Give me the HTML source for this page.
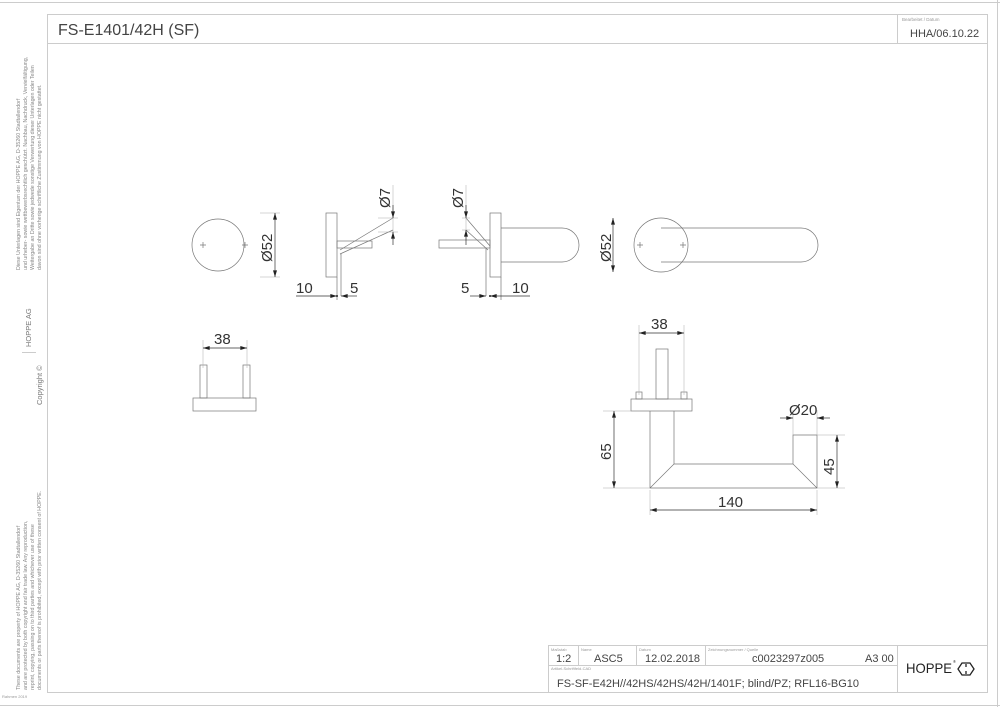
<!DOCTYPE html>
<html><head><meta charset="utf-8"><style>
html,body{margin:0;padding:0;background:#fff;}
svg{display:block;font-family:"Liberation Sans",sans-serif;}
</style></head><body>
<svg width="1000" height="707" viewBox="0 0 1000 707" xmlns="http://www.w3.org/2000/svg">
<defs>
<marker id="a" viewBox="0 0 10 6" refX="10" refY="3" markerWidth="10" markerHeight="4" orient="auto-start-reverse" markerUnits="userSpaceOnUse"><path d="M0,0 L10,3 L0,6z" fill="#222"/></marker>
</defs>
<g fill="none" stroke="#ccc" stroke-width="1">
<rect x="47.5" y="14.5" width="940" height="678"/>
<line x1="997.5" y1="0" x2="997.5" y2="707"/>
<line x1="0" y1="2.5" x2="1000" y2="2.5"/>
<line x1="47" y1="43.5" x2="987" y2="43.5"/>
<line x1="897.5" y1="14" x2="897.5" y2="43"/>
<line x1="548.5" y1="645.5" x2="987" y2="645.5"/>
<line x1="548.5" y1="645" x2="548.5" y2="692"/>
<line x1="548" y1="665.5" x2="897" y2="665.5"/>
<line x1="578.5" y1="645" x2="578.5" y2="665"/>
<line x1="636.5" y1="645" x2="636.5" y2="665"/>
<line x1="705.5" y1="645" x2="705.5" y2="665"/>
<line x1="897.5" y1="645" x2="897.5" y2="692"/>
<line x1="0" y1="705.5" x2="1000" y2="705.5"/>
<line x1="22" y1="352.5" x2="36" y2="352.5"/>
</g>
<text x="58" y="35" font-size="16" fill="#444">FS-E1401/42H (SF)</text>
<text x="902" y="21" font-size="4.5" fill="#999">Bearbeitet / Datum</text>
<text x="910" y="37" font-size="11" fill="#444">HHA/06.10.22</text>
<g font-size="4" fill="#999">
<text x="551" y="651">Maßstab</text><text x="581" y="651">Name</text><text x="639" y="651">Datum</text><text x="708" y="651">Zeichnungsnummer / Quelle</text>
<text x="551" y="670">Artikel-Schriftfeld-CAD</text>
<text x="2" y="698">Rahmen 2019</text>
</g>
<g font-size="11" fill="#444">
<text x="556" y="662">1:2</text><text x="594" y="662">ASC5</text><text x="645" y="662">12.02.2018</text>
<text x="752" y="662">c0023297z005</text><text x="865" y="662">A3 00</text>
<text x="557" y="687">FS-SF-E42H//42HS/42HS/42H/1401F; blind/PZ; RFL16-BG10</text>
</g>
<text x="906" y="673" font-size="14" fill="#222" textLength="46" lengthAdjust="spacingAndGlyphs">HOPPE</text>
<text x="953" y="663" font-size="4" fill="#222">®</text>
<path d="M962,663 h8 l4,6 l-4,6 h-8 l-4,-6z M966,664 v3 M966,671 v3" fill="none" stroke="#222" stroke-width="1.3"/>
<g font-size="5.3" fill="#888">
<g transform="translate(20,270) rotate(-90)"><text>Diese Unterlagen sind Eigentum der  HOPPE AG, D-35260 Stadtallendorf</text></g>
<g transform="translate(27,270) rotate(-90)"><text>und urheber- sowie wettbewerbsrechtlich geschützt. Nachbau, Nachdruck, Vervielfältigung,</text></g>
<g transform="translate(34,270) rotate(-90)"><text>Weitergabe an Dritte sowie jedwede sonstige Verwertung dieser Unterlagen oder Teilen</text></g>
<g transform="translate(41,270) rotate(-90)"><text>davon sind ohne vorherige schriftliche Zustimmung von HOPPE nicht gestattet.</text></g>
<g transform="translate(20,690) rotate(-90)"><text>These documents are property of HOPPE AG, D-35260 Stadtallendorf</text></g>
<g transform="translate(27,690) rotate(-90)"><text>and are protected by both copyright and fair trade law. Any reproduction,</text></g>
<g transform="translate(34,690) rotate(-90)"><text>reprint, copying, passing on to third parties and whichever use of these</text></g>
<g transform="translate(41,690) rotate(-90)"><text>documents or parts thereof is prohibited, except with prior written consent of HOPPE.</text></g>
</g>
<g font-size="7.5" fill="#777">
<g transform="translate(31,347) rotate(-90)"><text>HOPPE  AG</text></g>
<g transform="translate(42,405) rotate(-90)"><text>Copyright ©</text></g>
</g>
<g fill="none" stroke="#777" stroke-width="0.7">
<circle cx="218" cy="245" r="26"/>
<path d="M200,245h6M203,242v6M242,245h6M245,242v6"/>
<rect x="326" y="213" width="11" height="64"/>
<rect x="337" y="241" width="35" height="7"/>
<path d="M340,250L393,218M340,254L393,230M341,254V296M337,277V300"/>
<rect x="439" y="240" width="51" height="8"/>
<rect x="490" y="213" width="11" height="64"/>
<path d="M501,228H562A17,17 0 0 1 562,262H501"/>
<path d="M466,218L490,246M466,230L488,250M486,248V296M501,277V300"/>
<circle cx="661" cy="245" r="27"/>
<path d="M661,228H801A17,17 0 0 1 801,262H661"/>
<path d="M637,245h6M640,242v6M680,245h6M683,242v6"/>
<rect x="193" y="398" width="63" height="13"/>
<rect x="200" y="365" width="7" height="33"/>
<rect x="243" y="365" width="7" height="33"/>
<rect x="631" y="399" width="61" height="12"/>
<rect x="656" y="349" width="12" height="50"/>
<rect x="636" y="392" width="6" height="7"/><rect x="681" y="392" width="6" height="7"/>
<path d="M650,411V488H817V435H793V464H674V411M650,488L674,464M793,464L817,488"/>
</g>
<g fill="none" stroke="#aaa" stroke-width="0.5">
<path d="M260,213H280M260,277H280M378,218H398M378,232H398M393,185V240M466,185V240M462,218H470M462,230H470"/>
<path d="M203,340V368M247,340V368M639,325V395M684,325V395M603,411H640M603,488H650M817,488H845M817,435H845M793,410V435M817,410V435M650,490V515M817,490V515"/>
</g>
<g stroke="#333" stroke-width="0.7" fill="none">
<line x1="275" y1="213" x2="275" y2="277" marker-start="url(#a)" marker-end="url(#a)"/>
<line x1="613" y1="218" x2="613" y2="272" marker-start="url(#a)" marker-end="url(#a)"/>
<line x1="393" y1="205" x2="393" y2="218" marker-end="url(#a)"/>
<line x1="393" y1="245" x2="393" y2="232" marker-end="url(#a)"/>
<line x1="466" y1="205" x2="466" y2="218" marker-end="url(#a)"/>
<line x1="466" y1="245" x2="466" y2="230" marker-end="url(#a)"/>
<line x1="296" y1="296" x2="337" y2="296" marker-end="url(#a)"/>
<line x1="357" y1="296" x2="341" y2="296" marker-end="url(#a)"/>
<line x1="470" y1="296" x2="486" y2="296" marker-end="url(#a)"/>
<line x1="530" y1="296" x2="490" y2="296" marker-end="url(#a)"/>
<line x1="203" y1="348" x2="247" y2="348" marker-start="url(#a)" marker-end="url(#a)"/>
<line x1="639" y1="333" x2="684" y2="333" marker-start="url(#a)" marker-end="url(#a)"/>
<line x1="614" y1="411" x2="614" y2="488" marker-start="url(#a)" marker-end="url(#a)"/>
<line x1="837" y1="435" x2="837" y2="488" marker-start="url(#a)" marker-end="url(#a)"/>
<line x1="650" y1="510" x2="817" y2="510" marker-start="url(#a)" marker-end="url(#a)"/>
<line x1="780" y1="418" x2="793" y2="418" marker-end="url(#a)"/>
<line x1="830" y1="418" x2="817" y2="418" marker-end="url(#a)"/>
</g>
<g fill="#222"><circle cx="337" cy="296" r="1"/><circle cx="490" cy="296" r="1"/></g>
<g font-size="15" fill="#333">
<g transform="translate(272,262) rotate(-90)"><text>Ø52</text></g>
<g transform="translate(611,262) rotate(-90)"><text>Ø52</text></g>
<g transform="translate(390,208) rotate(-90)"><text>Ø7</text></g>
<g transform="translate(463,208) rotate(-90)"><text>Ø7</text></g>
<text x="296" y="293">10</text><text x="350" y="293">5</text>
<text x="461" y="293">5</text><text x="512" y="293">10</text>
<text x="214" y="344">38</text><text x="651" y="329">38</text>
<g transform="translate(611,460) rotate(-90)"><text>65</text></g>
<g transform="translate(834,475) rotate(-90)"><text>45</text></g>
<text x="718" y="507">140</text>
<text x="789" y="415">Ø20</text>
</g>
</svg>
</body></html>
